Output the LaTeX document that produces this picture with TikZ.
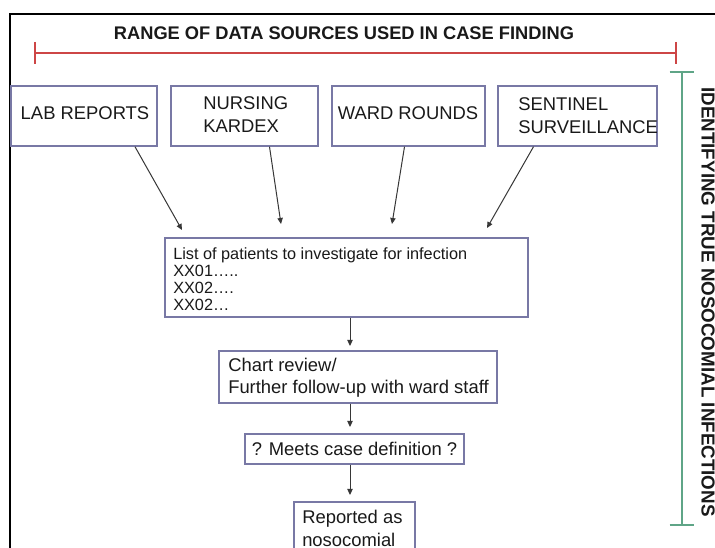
\documentclass[tikz,border=0pt]{standalone}
\usepackage{fontspec}
\setmainfont{Liberation Sans}
\usetikzlibrary{arrows.meta,calc}
\definecolor{boxc}{RGB}{120,120,165}
\definecolor{redl}{RGB}{205,70,70}
\definecolor{grnl}{RGB}{95,165,135}
\definecolor{linec}{RGB}{55,55,55}
\definecolor{txt}{RGB}{25,25,25}
\begin{document}
\begin{tikzpicture}[x=0.75pt,y=-0.75pt,
  box/.style={draw=boxc, line width=1.1pt, inner sep=0pt, rectangle},
  arr/.style={draw=linec, line width=0.75pt, -{Triangle[length=4.5pt,width=4pt]}},
  big/.style={text=txt, inner sep=0pt, font=\fontsize{13.8}{17.25}\selectfont},
  small/.style={text=txt, inner sep=0pt, font=\fontsize{12.2}{12.9}\selectfont},
  head/.style={text=txt, inner sep=0pt, font=\fontsize{13.7}{16}\selectfont\bfseries},
  rangebar/.style={draw=redl, line width=1.5pt},
  idbar/.style={draw=grnl, line width=1.5pt}]
\useasboundingbox (0,0) rectangle (715,548);
\clip (0,0) rectangle (715,548);
\fill[white] (0,0) rectangle (715,548);
% outer frame
\draw[black, line width=1.9pt] (10,14) rectangle (740,570);

% title and range bar
\node[head] (title) at (344,33) {RANGE OF DATA SOURCES USED IN CASE FINDING};
\coordinate (r1) at (35,53);
\coordinate (r2) at (676,53);
\draw[rangebar] (r1) -- (r2);
\draw[rangebar] ($(r1)+(0,-11)$) -- ($(r1)+(0,11)$);
\draw[rangebar] ($(r2)+(0,-11)$) -- ($(r2)+(0,11)$);

% identifying bar
\coordinate (g1) at (681.5,72);
\coordinate (g2) at (681.5,525);
\draw[idbar] (g1) -- (g2);
\draw[idbar] ($(g1)+(-12,0)$) -- ($(g1)+(12,0)$);
\draw[idbar] ($(g2)+(-12,0)$) -- ($(g2)+(12,0)$);
\node[head, font=\fontsize{14.1}{16}\selectfont\bfseries, rotate=-90] (idtext) at (708,302) {IDENTIFYING TRUE NOSOCOMIAL INFECTIONS};

% source boxes
\node[box, minimum width=109.5pt, minimum height=45pt] (lab) at (84,116) {};
\node[box, minimum width=110.25pt, minimum height=45pt] (nurs) at (244.5,116) {};
\node[box, minimum width=114.75pt, minimum height=45pt] (ward) at (408.5,116) {};
\node[box, minimum width=119.25pt, minimum height=45pt] (sent) at (577.5,116) {};
\node[big] (labt) at (85,113) {LAB REPORTS};
\node[big, align=left, anchor=west] (nurst) at (203,114.5) {NURSING\\KARDEX};
\node[big] (wardt) at (408,113) {WARD ROUNDS};
\node[big, align=left, anchor=west] (sentt) at (518,115.5) {SENTINEL\\SURVEILLANCE};

% list box
\node[box, minimum width=272.25pt, minimum height=59.25pt] (list) at (346.5,277.5) {};
\node[small, align=left, anchor=west] (listt) at (173,279) {List of patients to investigate for infection\\XX01\dots..\\XX02\dots.\\XX02\dots};

\coordinate (t1) at (182,230);
\coordinate (t2) at (281,224);
\coordinate (t3) at (392,224);
\coordinate (t4) at (487,228);
\draw[arr] ($(lab.south)+(51,0)$) -- (t1);
\draw[arr] ($(nurs.south)+(25,0)$) -- (t2);
\draw[arr] ($(ward.south)+(-4,0)$) -- (t3);
\draw[arr] ($(sent.south)+(-44,0)$) -- (t4);

% chart review
\node[box, minimum width=208.5pt, minimum height=39pt] (chart) at (358,377) {};
\node[big, align=left, anchor=west, font=\fontsize{13.8}{16.5}\selectfont] (chartt) at (228,378) {Chart review/\\Further follow-up with ward staff};
\coordinate (a1) at (350,346);
\draw[arr] (list.south -| a1) -- (a1);

% meets case definition
\node[box, minimum width=164.25pt, minimum height=22.5pt] (meets) at (354.5,449) {};
\node[big] (meetst) at (354.5,449) {? Meets case definition ?};
\coordinate (a2) at (350,427);
\draw[arr] (chart.south -| a2) -- (a2);

% reported
\node[box, minimum width=90.75pt, minimum height=42pt] (rep) at (354.5,530) {};
\node[big, align=left, anchor=west] (rept) at (302,528.5) {Reported as\\nosocomial};
\coordinate (a3) at (350,495);
\draw[arr] (meets.south -| a3) -- (a3);
\end{tikzpicture}
\end{document}
